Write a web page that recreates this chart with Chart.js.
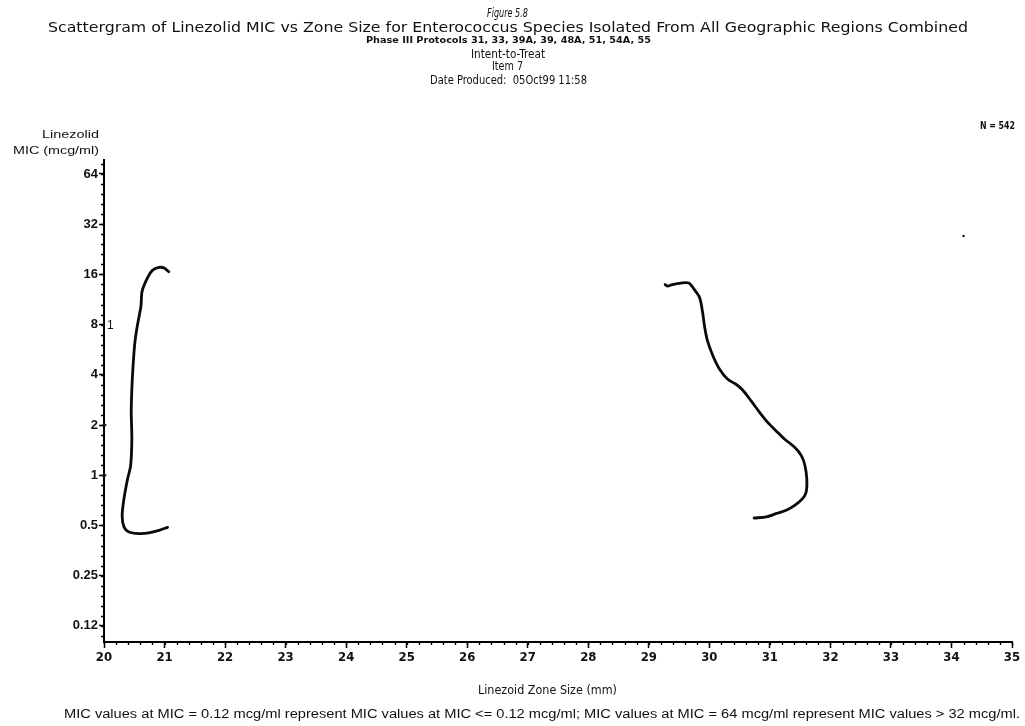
<!DOCTYPE html>
<html>
<head>
<meta charset="utf-8">
<title>Figure 5.8</title>
<script src="https://cdn.jsdelivr.net/npm/chart.js@4.4.1/dist/chart.umd.min.js"></script>
<style>
  html, body { margin: 0; padding: 0; background: #fff; }
  #wrap { position: relative; width: 1025px; height: 726px; overflow: hidden; }
  #chart { position: absolute; left: 0; top: 0; }
  .t {
    position: absolute; white-space: nowrap; color: #111; line-height: 1;
    font-family: "Liberation Sans Narrow", "DejaVu Sans Condensed", "Liberation Sans", sans-serif;
    transform-origin: 0 50%;
  }
</style>
</head>
<body>
<div id="wrap">
  <canvas id="chart" width="1025" height="726"></canvas>

  <div class="t" data-x="487" data-w="41" data-y="12" style="font-size:13px;font-style:italic">Figure 5.8</div>
  <div class="t" data-x="48" data-w="920" data-y="27" style="font-size:14px">Scattergram of Linezolid MIC vs Zone Size for Enterococcus Species Isolated From All Geographic Regions Combined</div>
  <div class="t" data-x="366" data-w="285" data-y="40" style="font-size:9px;font-weight:bold">Phase III Protocols 31, 33, 39A, 39, 48A, 51, 54A, 55</div>
  <div class="t" data-x="471" data-w="74" data-y="54" style="font-size:12px">Intent-to-Treat</div>
  <div class="t" data-x="492" data-w="31" data-y="66" style="font-size:12px">Item 7</div>
  <div class="t" data-x="430" data-w="157" data-y="79" style="font-size:13px">Date Produced:&nbsp; 05Oct99 11:58</div>

  <div class="t" data-x="980" data-w="35" data-y="126" style="font-size:10px;font-weight:bold">N = 542</div>
  <div class="t" data-x="42" data-w="57" data-y="134" style="font-size:11px;font-family:'Liberation Sans',sans-serif">Linezolid</div>
  <div class="t" data-x="13" data-w="86" data-y="150" style="font-size:11px;font-family:'Liberation Sans',sans-serif">MIC (mcg/ml)</div>

  <div class="t" data-x="478" data-w="139" data-y="690" style="font-size:12px">Linezoid Zone Size (mm)</div>
  <div class="t" data-x="64" data-w="956" data-y="714" style="font-size:12px;font-family:'Liberation Sans',sans-serif">MIC values at MIC = 0.12 mcg/ml represent MIC values at MIC &lt;= 0.12 mcg/ml; MIC values at MIC = 64 mcg/ml represent MIC values &gt; 32 mcg/ml.</div>
</div>

<script>
// axis ticks
var zoneTicks = [20, 21, 22, 23, 24, 25, 26, 27, 28, 29, 30, 31, 32, 33, 34, 35];
var micTicks = [0.125, 0.25, 0.5, 1, 2, 4, 8, 16, 32, 64];
var micTickLabels = ['0.12', '0.25', '0.5', '1', '2', '4', '8', '16', '32', '64'];

// hand-drawn trace near 20-21 mm
var leftZone = [21.07, 20.99, 20.91, 20.80, 20.72, 20.63, 20.61, 20.55, 20.51, 20.48, 20.46, 20.45,
                20.46, 20.44, 20.39, 20.33, 20.30, 20.33, 20.41, 20.58, 20.74, 20.91, 21.05];
var leftMic = [16.6, 17.5, 17.6, 16.9, 15.3, 12.7, 10.3, 7.84, 6.24, 4.52, 3.28, 2.38,
               1.65, 1.14, 0.952, 0.723, 0.574, 0.490, 0.457, 0.447, 0.451, 0.467, 0.487];

// hand-drawn trace near 29-32 mm
var rightZone = [29.27, 29.31, 29.39, 29.53, 29.66, 29.75, 29.84, 29.89, 29.92, 29.97, 30.06, 30.17,
                 30.30, 30.44, 30.55, 30.69, 30.83, 30.96, 31.10, 31.24, 31.41, 31.52, 31.58, 31.61,
                 31.60, 31.54, 31.41, 31.27, 31.10, 30.94, 30.74];
var rightMic = [13.9, 13.6, 13.9, 14.2, 14.2, 13.0, 11.6, 9.42, 7.84, 6.38, 5.19, 4.32,
                3.77, 3.51, 3.24, 2.79, 2.38, 2.08, 1.85, 1.65, 1.47, 1.31, 1.14, 0.952,
                0.793, 0.723, 0.659, 0.616, 0.588, 0.562, 0.554];

// isolate counts printed at their cell
var countZone = [20];
var countMic = [8];
var countLabel = ['1'];

// stray marks
var dotZone = [20.02, 20.02, 34.20];
var dotMic = [2, 1, 27.2];

function pts(xs, ys) {
  return xs.map(function (x, i) { return { x: x, y: ys[i] }; });
}

var axisFont = { family: "'Liberation Sans Narrow', 'DejaVu Sans Condensed', sans-serif", size: 13, weight: 'bold' };

// short minor ticks, 5 steps per unit on both axes
var minorTicks = {
  id: 'minorTicks',
  afterDraw: function (chart) {
    var ctx = chart.ctx, a = chart.chartArea;
    var xs = chart.scales.x, ys = chart.scales.y;
    ctx.save();
    ctx.strokeStyle = '#000';
    ctx.lineWidth = 1.3;
    ctx.beginPath();
    for (var v = 20; v <= 35.001; v += 0.2) {
      var px = Math.round(xs.getPixelForValue(v)) + 0.5;
      ctx.moveTo(px, a.bottom);
      ctx.lineTo(px, a.bottom + 3);
    }
    for (var k = -3.2; k <= 6.3; k += 0.2) {
      var py = Math.round(ys.getPixelForValue(Math.pow(2, k))) + 0.5;
      if (py < a.top || py > a.bottom) continue;
      ctx.moveTo(a.left - 3, py);
      ctx.lineTo(a.left, py);
    }
    ctx.stroke();

    // count labels
    ctx.fillStyle = '#111';
    ctx.font = "12px 'Liberation Sans', sans-serif";
    ctx.textBaseline = 'middle';
    countZone.forEach(function (z, i) {
      ctx.fillText(countLabel[i], xs.getPixelForValue(z) + 3, ys.getPixelForValue(countMic[i]) + 1);
    });
    ctx.restore();
  }
};

var curve = {
  showLine: true, borderColor: '#0a0a0a', borderWidth: 2.8, pointRadius: 0,
  tension: 0.3, borderCapStyle: 'round', borderJoinStyle: 'round'
};

new Chart(document.getElementById('chart'), {
  type: 'scatter',
  data: {
    datasets: [
      Object.assign({ data: pts(leftZone, leftMic) }, curve),
      Object.assign({ data: pts(rightZone, rightMic) }, curve),
      { data: pts(dotZone, dotMic), pointRadius: 1.3, pointBackgroundColor: '#222', pointBorderWidth: 0 }
    ]
  },
  options: {
    responsive: false,
    animation: false,
    layout: { padding: { left: 0, right: 13, top: 160, bottom: 0 } },
    plugins: { legend: { display: false }, tooltip: { enabled: false } },
    scales: {
      x: {
        type: 'linear', min: 20, max: 35,
        afterBuildTicks: function (s) { s.ticks = zoneTicks.map(function (v) { return { value: v }; }); },
        afterFit: function (s) { s.height = 84; },
        ticks: { autoSkip: false, maxRotation: 0, color: '#111', font: axisFont, padding: 2 },
        grid: { drawOnChartArea: false, drawTicks: true, tickLength: 6, tickColor: '#000', tickWidth: 1.5 },
        border: { display: true, color: '#000', width: 2 }
      },
      y: {
        type: 'logarithmic', min: 0.1, max: 77.6,
        afterBuildTicks: function (s) { s.ticks = micTicks.map(function (v) { return { value: v }; }); },
        afterFit: function (s) { s.width = 104; },
        ticks: {
          autoSkip: false, color: '#111', padding: 1,
          font: { family: "'Liberation Sans', sans-serif", size: 13, weight: 'bold' },
          callback: function (v) { return micTickLabels[micTicks.indexOf(v)]; }
        },
        grid: { drawOnChartArea: false, drawTicks: true, tickLength: 5, tickColor: '#000', tickWidth: 1.5 },
        border: { display: true, color: '#000', width: 2 }
      }
    }
  },
  plugins: [minorTicks]
});

// stretch each text line to its measured width
document.querySelectorAll('.t').forEach(function (el) {
  var w = el.getBoundingClientRect().width;
  var h = el.getBoundingClientRect().height;
  el.style.left = el.dataset.x + 'px';
  el.style.top = (el.dataset.y - h / 2) + 'px';
  el.style.transform = 'scaleX(' + (el.dataset.w / w) + ')';
});
</script>
</body>
</html>
